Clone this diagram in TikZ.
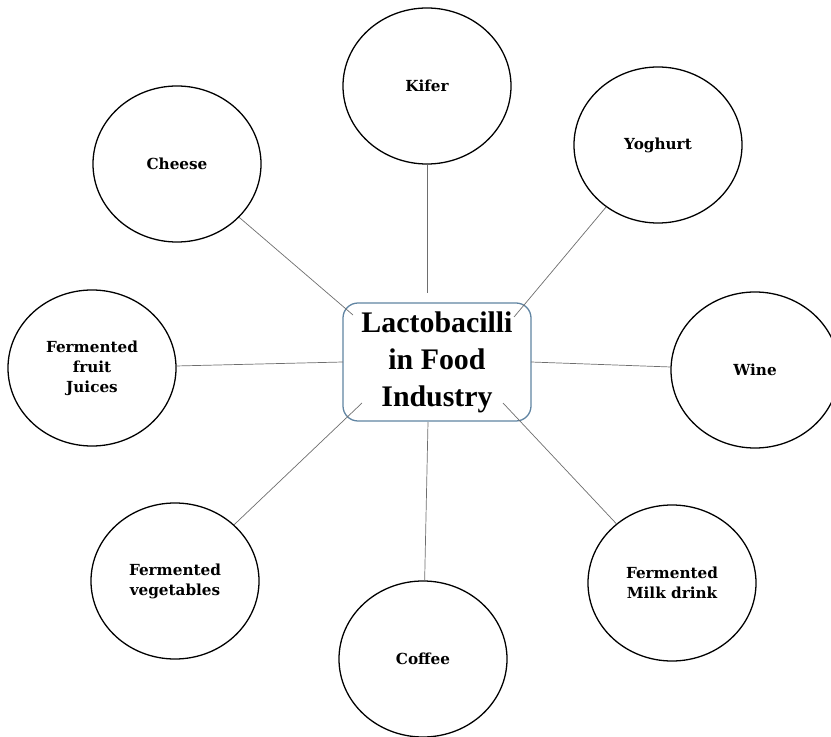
\documentclass[tikz,border=0pt]{standalone}
\usepackage{fontspec}
\setmainfont{Liberation Serif}
\newfontfamily\circfont{DejaVu Serif}
\usepackage{tikz}
\usetikzlibrary{shapes.geometric}
\definecolor{BordeCaja}{RGB}{96,132,162}
\definecolor{GrisLinea}{RGB}{110,110,110}

\begin{document}
\begin{tikzpicture}[x=0.03cm,y=-0.03cm,
    uso/.style={ellipse,draw=black,line width=1.1pt,minimum width=5.04cm,minimum height=4.68cm,
      align=center,inner sep=0pt,font=\circfont\bfseries\fontsize{13}{17}\selectfont},
    centro/.style={draw=BordeCaja,line width=1.1pt,rounded corners=0.45cm,minimum width=5.64cm,
      minimum height=3.54cm,align=center,font=\bfseries\fontsize{25.5}{31.5}\selectfont},
    enlace/.style={draw=GrisLinea,line width=0.6pt}]
  \useasboundingbox (0,0) rectangle (831,737);

  \node[centro] (lacto) at (437,362) {Lactobacilli\\in Food\\Industry};

  \node[uso] (kifer)    at (427,86)  {Kifer};
  \node[uso] (yoghurt)  at (658,145) {Yoghurt};
  \node[uso] (cheese)   at (177,164) {Cheese};
  \node[uso] (juices)   at (92,368)  {Fermented\\fruit\\Juices};
  \node[uso] (wine)     at (755,370) {Wine};
  \node[uso] (veget)    at (175,581) {Fermented\\vegetables};
  \node[uso] (coffee)   at (423,659) {Coffee};
  \node[uso] (milk)     at (672,583) {Fermented\\Milk drink};

  % ends of the links near the box
  \coordinate (pk) at (427,293);
  \coordinate (py) at (514,317);
  \coordinate (pc) at (353,315);
  \coordinate (pj) at (343,362);
  \coordinate (pw) at (531,362);
  \coordinate (pv) at (362,403);
  \coordinate (pf) at (428,422);
  \coordinate (pm) at (503,403);

  \draw[enlace] (kifer) -- (pk);
  \draw[enlace] (yoghurt) -- (py);
  \draw[enlace] (cheese) -- (pc);
  \draw[enlace] (juices) -- (pj);
  \draw[enlace] (wine) -- (pw);
  \draw[enlace] (veget) -- (pv);
  \draw[enlace] (coffee) -- (pf);
  \draw[enlace] (milk) -- (pm);
\end{tikzpicture}
\end{document}
